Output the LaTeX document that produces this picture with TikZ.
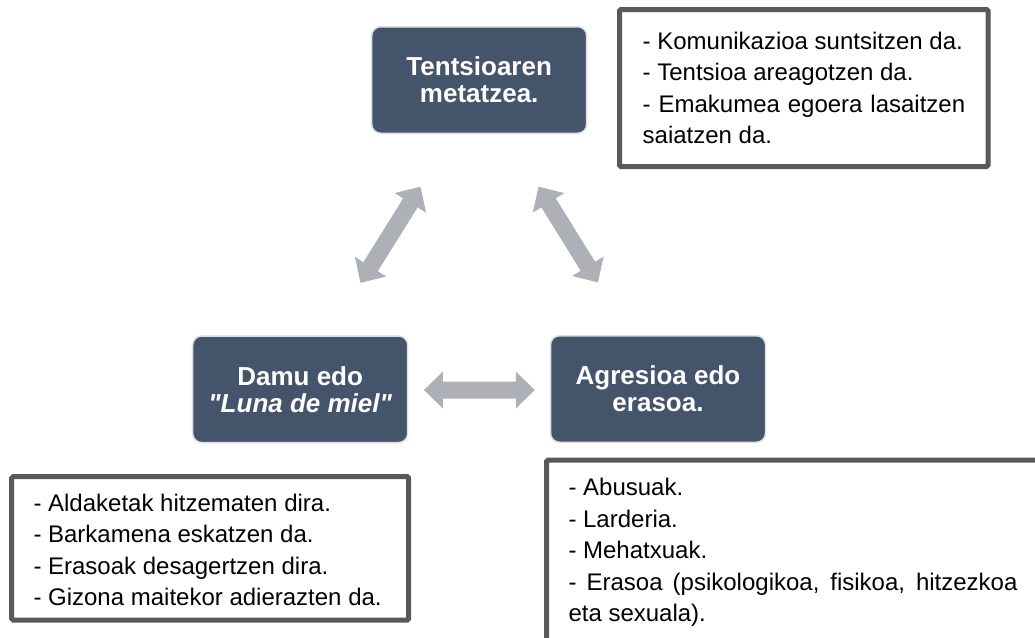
\documentclass[tikz,border=0pt]{standalone}
\usepackage{fontspec}
\setmainfont{Liberation Sans}[Ligatures=TeXOff]
\usetikzlibrary{calc}
\definecolor{nodefill}{RGB}{68,84,106}
\definecolor{nodeline}{RGB}{222,222,222}
\definecolor{arrowgray}{RGB}{173,176,183}
\definecolor{framegray}{RGB}{89,89,89}
\tikzset{
  stage/.style={fill=nodefill, draw=nodeline, line width=1.5pt, rounded corners=9pt,
    minimum width=215pt, minimum height=106.5pt, text=white, align=center, inner sep=0pt,
    font=\fontsize{26}{27}\selectfont\bfseries},
  notebox/.style={draw=framegray, line width=5pt, fill=white, inner sep=0pt, rounded corners=1.5pt},
  itemtext/.style={font=\fontsize{24}{31.5}\selectfont, align=left, anchor=base west,
    inner sep=0pt, text=black},
  arrowshape/.style={fill=arrowgray}
}
\newcommand\blockarr[2]{%
  \pgfpointdiff{\pgfpointanchor{#1}{center}}{\pgfpointanchor{#2}{center}}%
  \pgfgetlastxy{\badx}{\bady}%
  \pgfmathsetmacro\baang{atan2(\bady,\badx)}%
  \pgfmathsetmacro\balen{veclen(\badx,\bady)}%
  \path[arrowshape, shift={(#1)}, rotate=\baang]
    (0pt,0pt) -- (19pt,18.5pt) -- (19pt,8.5pt) -- (\balen pt-19pt,8.5pt)
    -- (\balen pt-19pt,18.5pt) -- (\balen pt,0pt) -- (\balen pt-19pt,-18.5pt)
    -- (\balen pt-19pt,-8.5pt) -- (19pt,-8.5pt) -- (19pt,-18.5pt) -- cycle;%
}
\begin{document}
\begin{tikzpicture}[x=1pt, y=-1pt]
  \useasboundingbox (0,0) rectangle (1035,637);
  \fill[white] (0,0) rectangle (1035,637);
  \clip (0,0) rectangle (1035,637);

  % stage nodes
  \node[stage] (T) at (479.2,80) {Tentsioaren\\metatzea.};
  \node[stage] (L) at (300.2,389.3) {Damu edo\\\itshape "Luna de miel"};
  \node[stage] (R) at (658,389) {Agresioa edo\\erasoa.};

  % connector end points
  \coordinate (hA) at ($(L.east)+(15.5,0.7)$);
  \coordinate (hB) at ($(R.west)+(-15,1)$);
  \coordinate (lA) at ($(L.north)+(60.3,-52.5)$);
  \coordinate (lB) at ($(T.south)+(-58.7,52.7)$);
  \coordinate (rA) at ($(T.south)+(59.3,52.7)$);
  \coordinate (rB) at ($(R.north)+(-60,-52.5)$);

  \blockarr{hA}{hB}
  \blockarr{lA}{lB}
  \blockarr{rA}{rB}

  % note boxes
  \node[notebox, minimum width=368.5pt, minimum height=157pt] (bT) at (803.75,88) {};
  \node[notebox, minimum width=397pt, minimum height=143.3pt] (bL) at (210.2,548.35) {};
  \node[notebox, minimum width=503.3pt, minimum height=200pt] (bR) at (798.35,560) {};

  % texts (base anchor = baseline of the last line)
  \node[itemtext] (tT) at (642.5,143.5) {- Komunikazioa suntsitzen da.\\- Tentsioa areagotzen da.\\\makebox[322.5pt][s]{- Emakumea egoera lasaitzen}\\saiatzen da.};
  \node[itemtext] (tL) at (33.3,605.5) {- Aldaketak hitzematen dira.\\- Barkamena eskatzen da.\\- Erasoak desagertzen dira.\\- Gizona maitekor adierazten da.};
  \node[itemtext] (tR) at (568.3,621.5) {- Abusuak.\\- Larderia.\\- Mehatxuak.\\\makebox[449pt][s]{- Erasoa (psikologikoa, fisikoa, hitzezkoa}\\eta sexuala).};
\end{tikzpicture}
\end{document}
